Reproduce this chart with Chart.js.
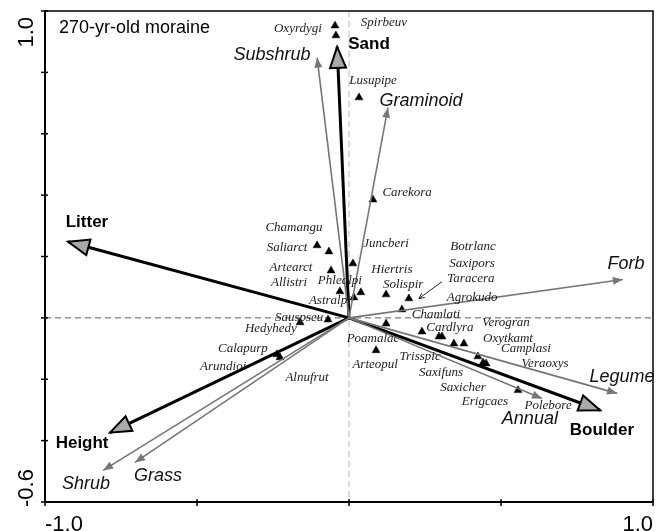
<!DOCTYPE html>
<html>
<head>
<meta charset="utf-8">
<script src="https://cdn.jsdelivr.net/npm/chart.js@4"></script>
<style>
  html, body { margin:0; padding:0; background:#fff; }
  canvas { display:block; }
</style>
</head>
<body>
<canvas id="c" width="662" height="531"></canvas>
<script>
// environmental variables (black arrows)
const envNames = ['Sand', 'Litter', 'Height', 'Boulder'];
const envX = [-0.039, -0.924, -0.786, 0.826];
const envY = [0.883, 0.248, -0.374, -0.301];
const envLabX = [0.066, -0.862, -0.878, 0.832];
const envLabY = [0.893, 0.310, -0.409, -0.367];

// growth forms (gray arrows)
const formNames = ['Subshrub', 'Graminoid', 'Forb', 'Legume', 'Annual', 'Shrub', 'Grass'];
const formX = [-0.105, 0.128, 0.901, 0.882, 0.635, -0.809, -0.704];
const formY = [0.848, 0.685, 0.125, -0.246, -0.263, -0.497, -0.471];
const formLabX = [-0.253, 0.237, 0.911, 0.898, 0.595, -0.865, -0.628];
const formLabY = [0.858, 0.708, 0.174, -0.194, -0.328, -0.540, -0.514];

// species scores (triangles)
const spX = [-0.046, -0.043, 0.033, 0.079, -0.105, -0.066, 0.013, -0.059, -0.030, 0.039,
             0.016, 0.122, 0.197, 0.174, -0.069, -0.161, -0.237, -0.227, 0.122, 0.089,
             0.240, 0.296, 0.306, 0.345, 0.378, 0.424, 0.441, 0.451, 0.556];
const spY = [0.952, 0.920, 0.718, 0.385, 0.236, 0.216, 0.177, 0.154, 0.086, 0.083,
             0.066, 0.076, 0.063, 0.027, -0.006, -0.015, -0.119, -0.129, -0.019, -0.106,
             -0.045, -0.061, -0.061, -0.084, -0.084, -0.126, -0.146, -0.149, -0.236];

// species names and where their labels sit
const spNames = ['Oxyrdygi', 'Spirbeuv', 'Lusupipe', 'Carekora', 'Chamangu', 'Saliarct', 'Juncberi',
  'Artearct', 'Allistri', 'Phlealpi', 'Hiertris', 'Solispir', 'Botrlanc', 'Saxipors', 'Taracera',
  'Agrokudo', 'Astralpi', 'Chamlati', 'Sauspseu', 'Hedyhedy', 'Calapurp', 'Arundioi', 'Alnufrut',
  'Poamalac', 'Arteopul', 'Cardlyra', 'Verogran', 'Oxytkamt', 'Camplasi', 'Veraoxys', 'Trisspic',
  'Saxifuns', 'Saxicher', 'Erigcaes', 'Polebore'];
const spLabX = [-0.168, 0.115, 0.079, 0.191, -0.181, -0.204, 0.122, -0.191, -0.197, -0.030,
  0.141, 0.178, 0.408, 0.405, 0.401, 0.405, -0.063, 0.286, -0.164, -0.257, -0.349, -0.414, -0.138,
  0.079, 0.086, 0.332, 0.516, 0.523, 0.582, 0.645, 0.234, 0.303, 0.375, 0.447, 0.655];
const spLabY = [0.942, 0.962, 0.773, 0.408, 0.294, 0.229, 0.242, 0.164, 0.115, 0.122,
  0.157, 0.108, 0.232, 0.177, 0.128, 0.066, 0.056, 0.011, 0.001, -0.035, -0.100, -0.159, -0.195,
  -0.068, -0.152, -0.032, -0.015, -0.067, -0.100, -0.149, -0.126, -0.178, -0.227, -0.273, -0.286];

// leader from the Taracera label to its point
const leaderX = [0.306, 0.230];
const leaderY = [0.118, 0.063];

const xTicks = [-1.0, -0.5, 0, 0.5, 1.0];
const yTicks = [-0.6, -0.4, -0.2, 0, 0.2, 0.4, 0.6, 0.8, 1.0];
const xTickLabels = ['-1.0', '1.0'];
const yTickLabels = ['-0.6', '1.0'];
const panelTitle = '270-yr-old moraine';

const GRAY = '#767676';

function head(ctx, from, to, len, half) {
  const a = Math.atan2(to.y - from.y, to.x - from.x);
  const bx = to.x - len * Math.cos(a), by = to.y - len * Math.sin(a);
  ctx.beginPath();
  ctx.moveTo(to.x, to.y);
  ctx.lineTo(bx - half * Math.sin(a), by + half * Math.cos(a));
  ctx.lineTo(bx + half * Math.sin(a), by - half * Math.cos(a));
  ctx.closePath();
}

const decor = {
  id: 'decor',
  beforeDatasetsDraw(chart) {
    const { ctx, chartArea: a, scales: { x, y } } = chart;
    ctx.save();
    ctx.setLineDash([6, 4]);
    ctx.lineWidth = 1;
    ctx.strokeStyle = '#5a5a5a';
    const y0 = y.getPixelForValue(0);
    ctx.beginPath(); ctx.moveTo(a.left, y0); ctx.lineTo(a.right, y0); ctx.stroke();
    ctx.lineWidth = 1.5;
    ctx.strokeStyle = '#cfcfcf';
    const x0 = x.getPixelForValue(0);
    ctx.beginPath(); ctx.moveTo(x0, a.top); ctx.lineTo(x0, a.bottom); ctx.stroke();
    ctx.restore();
  },
  afterDatasetsDraw(chart) {
    const ctx = chart.ctx;
    ctx.save();
    chart.data.datasets.forEach((ds, i) => {
      if (!ds.head) return;
      const pts = chart.getDatasetMeta(i).data;
      const p0 = pts[0], p1 = pts[1];
      if (ds.head === 'big') {
        head(ctx, p0, p1, 21, 8);
        ctx.fillStyle = '#a9a9a9';
        ctx.fill();
        ctx.lineWidth = 2;
        ctx.lineJoin = 'miter';
        ctx.strokeStyle = '#000';
        ctx.stroke();
      } else {
        head(ctx, p0, p1, 10, 4);
        ctx.fillStyle = GRAY;
        ctx.fill();
      }
    });
    ctx.restore();
  },
  afterDraw(chart) {
    const { ctx, chartArea: a, scales: { x, y } } = chart;
    ctx.save();
    // frame
    ctx.strokeStyle = '#000';
    ctx.lineWidth = 1.5;
    ctx.strokeRect(a.left, a.top, a.right - a.left, a.bottom - a.top);
    ctx.lineWidth = 2;
    ctx.beginPath();
    ctx.moveTo(a.left, a.top); ctx.lineTo(a.left, a.bottom); ctx.lineTo(a.right, a.bottom);
    ctx.stroke();
    // ticks
    ctx.lineWidth = 1.5;
    xTicks.forEach(v => {
      const px = x.getPixelForValue(v);
      ctx.beginPath(); ctx.moveTo(px, a.bottom - 3); ctx.lineTo(px, a.bottom + 4); ctx.stroke();
    });
    yTicks.forEach(v => {
      const py = y.getPixelForValue(v);
      ctx.beginPath(); ctx.moveTo(a.left - 4, py); ctx.lineTo(a.left + 3, py); ctx.stroke();
    });
    // tick labels
    ctx.fillStyle = '#000';
    ctx.font = '22px "Liberation Sans", Arial, sans-serif';
    ctx.textBaseline = 'alphabetic';
    ctx.textAlign = 'left';
    ctx.fillText(xTickLabels[0], x.getPixelForValue(-1.0), 531);
    ctx.textAlign = 'right';
    ctx.fillText(xTickLabels[1], x.getPixelForValue(1.0), 531);
    ctx.save();
    ctx.translate(33, y.getPixelForValue(-0.6) + 5);
    ctx.rotate(-Math.PI / 2);
    ctx.textAlign = 'left';
    ctx.fillText(yTickLabels[0], 0, 0);
    ctx.restore();
    ctx.save();
    ctx.translate(33, y.getPixelForValue(1.0) + 6);
    ctx.rotate(-Math.PI / 2);
    ctx.textAlign = 'right';
    ctx.fillText(yTickLabels[1], 0, 0);
    ctx.restore();

    // panel title
    ctx.textAlign = 'left';
    ctx.textBaseline = 'middle';
    ctx.font = '18px "Liberation Sans", Arial, sans-serif';
    ctx.fillText(panelTitle, a.left + 14, a.top + 17);

    // leader line
    const l0 = { x: x.getPixelForValue(leaderX[0]), y: y.getPixelForValue(leaderY[0]) };
    const l1 = { x: x.getPixelForValue(leaderX[1]), y: y.getPixelForValue(leaderY[1]) };
    ctx.strokeStyle = '#222';
    ctx.lineWidth = 1;
    ctx.beginPath(); ctx.moveTo(l0.x, l0.y); ctx.lineTo(l1.x, l1.y); ctx.stroke();
    const ang = Math.atan2(l1.y - l0.y, l1.x - l0.x);
    ctx.beginPath();
    ctx.moveTo(l1.x - 6 * Math.cos(ang - 0.45), l1.y - 6 * Math.sin(ang - 0.45));
    ctx.lineTo(l1.x, l1.y);
    ctx.lineTo(l1.x - 6 * Math.cos(ang + 0.45), l1.y - 6 * Math.sin(ang + 0.45));
    ctx.stroke();

    // species labels
    ctx.textAlign = 'center';
    ctx.fillStyle = '#222';
    ctx.font = 'italic 13px "Liberation Serif", "Times New Roman", serif';
    spNames.forEach((n, i) => {
      ctx.fillText(n, x.getPixelForValue(spLabX[i]), y.getPixelForValue(spLabY[i]));
    });
    // growth-form labels
    ctx.fillStyle = '#111';
    ctx.font = 'italic 18px "Liberation Sans", Arial, sans-serif';
    formNames.forEach((n, i) => {
      ctx.fillText(n, x.getPixelForValue(formLabX[i]), y.getPixelForValue(formLabY[i]));
    });
    // environmental labels
    ctx.fillStyle = '#000';
    ctx.font = 'bold 17px "Liberation Sans", Arial, sans-serif';
    envNames.forEach((n, i) => {
      ctx.fillText(n, x.getPixelForValue(envLabX[i]), y.getPixelForValue(envLabY[i]));
    });
    ctx.restore();
  }
};

const datasets = [];
formNames.forEach((n, i) => {
  datasets.push({
    label: n, head: 'gray', showLine: true,
    data: [{ x: 0, y: 0 }, { x: formX[i], y: formY[i] }],
    borderColor: GRAY, borderWidth: 1.6, pointRadius: 0
  });
});
envNames.forEach((n, i) => {
  datasets.push({
    label: n, head: 'big', showLine: true,
    data: [{ x: 0, y: 0 }, { x: envX[i], y: envY[i] }],
    borderColor: '#000', borderWidth: 3, pointRadius: 0
  });
});
datasets.push({
  label: 'species', showLine: false,
  data: spX.map((v, i) => ({ x: v, y: spY[i] })),
  pointStyle: 'triangle', pointRadius: 4.6,
  backgroundColor: '#000', borderColor: '#000', borderWidth: 0.5
});

new Chart(document.getElementById('c'), {
  type: 'scatter',
  data: { datasets },
  options: {
    responsive: false,
    animation: false,
    devicePixelRatio: 1,
    layout: { padding: { left: 45, right: 9, top: 11, bottom: 29 } },
    plugins: { legend: { display: false }, tooltip: { enabled: false } },
    scales: {
      x: { type: 'linear', min: -1, max: 1, display: false },
      y: { type: 'linear', min: -0.6, max: 1.0, display: false }
    }
  },
  plugins: [decor]
});
</script>
</body>
</html>
